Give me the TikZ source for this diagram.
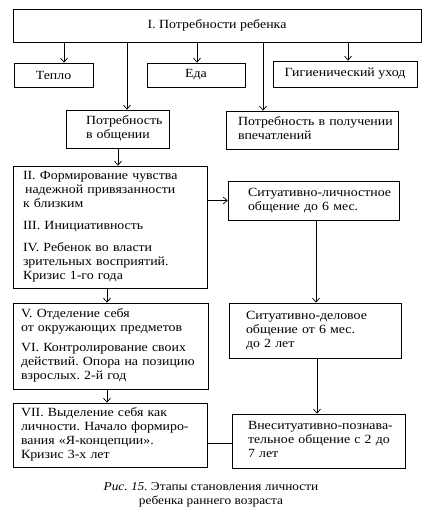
\documentclass[tikz,border=0pt]{standalone}
\usepackage{fontspec}
\setmainfont{Liberation Serif}[FakeStretch=1.11]
\usetikzlibrary{arrows.meta}
\newcommand\boxlines[1]{\begin{tabular}{@{}l@{}}#1\end{tabular}}
\begin{document}
\frenchspacing
\begin{tikzpicture}[x=1pt,y=-1pt,
  box/.style={draw, line width=0.7pt, inner ysep=0pt, font=\fontsize{12.5}{14}\selectfont},
  lbox/.style={box, align=left},
  arr/.style={line width=0.7pt, -{Straight Barb[length=4pt,width=7pt]}},
  ln/.style={line width=0.7pt}]
\useasboundingbox (0,0) rectangle (434,510);
\node[box, minimum width=408pt, minimum height=33pt, align=center] (top) at (217,25.5) {I. Потребности ребенка};
\node[box, minimum width=79pt, minimum height=24pt, align=center] (teplo) at (53.5,75) {Тепло};
\node[box, minimum width=98pt, minimum height=24pt, align=center] (eda) at (196,75) {Еда};
\node[box, minimum width=144pt, minimum height=26pt, align=center] (gig) at (345,74) {Гигиенический уход};
\node[lbox, minimum width=103pt, minimum height=38pt, text width=63pt, inner xsep=20pt] (obsh) at (117.5,129) {\boxlines{Потребность\\в общении}};
\node[lbox, minimum width=172pt, minimum height=38pt, text width=148pt, inner xsep=12pt] (vpech) at (312,130) {\boxlines{Потребность в получении\\впечатлений}};
\node[lbox, minimum width=194pt, minimum height=122pt, text width=174pt, inner xsep=10pt] (II) at (110,227) {\boxlines{II. Формирование чувства\\ \,надежной привязанности\\к близким\\[8pt]III. Инициативность\\[8pt]IV. Ребенок во власти\\зрительных восприятий.\\Кризис 1-го года}};
\node[lbox, minimum width=171pt, minimum height=39pt, text width=131pt, inner xsep=20pt] (sitlich) at (313.5,200.5) {\boxlines{Ситуативно-личностное\\общение до 6 мес.}};
\node[lbox, minimum width=195pt, minimum height=86pt, text width=179pt, inner xsep=8pt] (V) at (110.5,346) {\boxlines{V. Отделение себя\\от окружающих предметов\\[6pt]VI. Контролирование своих\\действий. Опора на позицию\\взрослых. 2-й год}};
\node[lbox, minimum width=172pt, minimum height=55pt, text width=138pt, inner xsep=17pt] (delov) at (315,330.5) {\boxlines{Ситуативно-деловое\\общение от 6 мес.\\до 2 лет}};
\node[lbox, minimum width=194pt, minimum height=64pt, text width=178pt, inner xsep=8pt] (VII) at (110,435) {\boxlines{VII. Выделение себя как\\личности. Начало формиро-\\вания «Я-концепции».\\Кризис 3-х лет}};
\node[lbox, minimum width=173pt, minimum height=54pt, text width=141pt, inner xsep=16pt] (vnesit) at (318.5,441) {\boxlines{Внеситуативно-познава-\\тельное общение с 2 до\\7 лет}};
\node[font=\fontsize{12}{14}\selectfont, align=center, inner sep=0pt] (cap) at (211,495) {\textit{Рис. 15.} Этапы становления личности\\ребенка раннего возраста};
% arrows
\draw[arr] (64,0 |- top.south) -- (64,0 |- teplo.north);
\draw[arr] (197,0 |- top.south) -- (197,0 |- eda.north);
\draw[arr] (348,0 |- top.south) -- (348,0 |- gig.north);
\draw[arr] (127,0 |- top.south) -- (127,0 |- obsh.north);
\draw[arr] (263,0 |- top.south) -- (263,0 |- vpech.north);
\draw[arr] (118,0 |- obsh.south) -- (118,0 |- II.north);
\draw[arr] (II.east |- sitlich.west) -- (sitlich.west);
\draw[arr] (316,0 |- sitlich.south) -- (316,0 |- delov.north);
\draw[arr] (107,0 |- II.south) -- (107,0 |- V.north);
\draw[arr] (107,0 |- V.south) -- (107,0 |- VII.north);
\draw[arr] (317,0 |- delov.south) -- (317,0 |- vnesit.north);
\draw[ln] (VII.east |- 0,443) -- (vnesit.west |- 0,443);
\end{tikzpicture}
\end{document}
